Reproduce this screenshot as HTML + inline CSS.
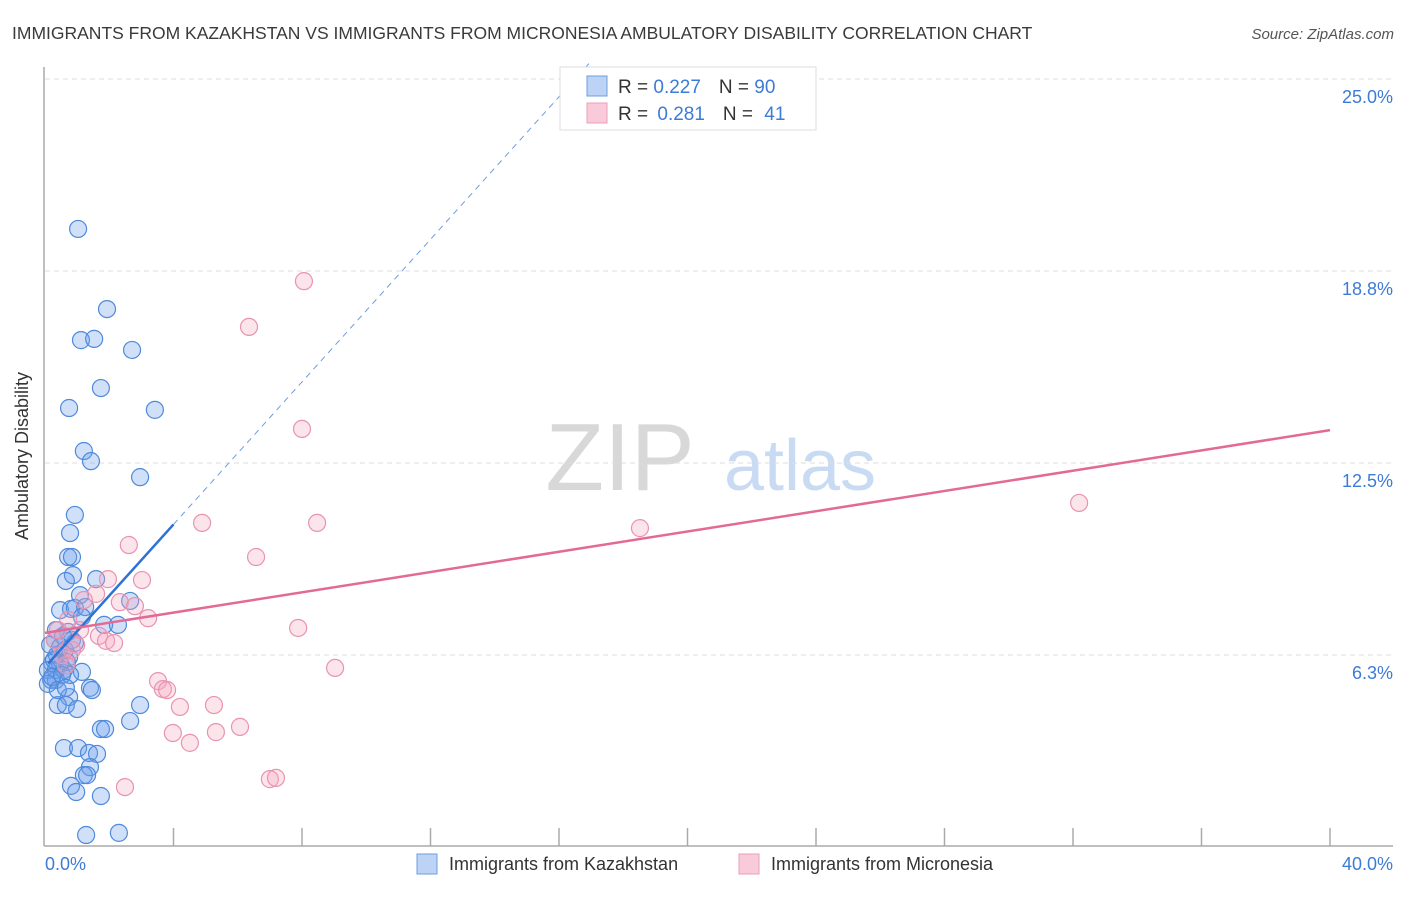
<!DOCTYPE html>
<html><head><meta charset="utf-8"><style>
body{margin:0;background:#fff;font-family:"Liberation Sans",sans-serif;}
svg text{font-family:"Liberation Sans",sans-serif;}
</style></head><body>
<svg id="chart" width="1406" height="892">
<text x="12" y="39" font-size="17.5" fill="#3a3a3a">IMMIGRANTS FROM KAZAKHSTAN VS IMMIGRANTS FROM MICRONESIA AMBULATORY DISABILITY CORRELATION CHART</text>
<text x="1394" y="39" font-size="15" font-style="italic" fill="#555" text-anchor="end">Source: ZipAtlas.com</text>
<text x="620" y="490" font-size="96" font-family="Liberation Serif" fill="#d8d8d8" text-anchor="middle">ZIP</text>
<text x="800" y="490" font-size="72" fill="#c9dbf3" text-anchor="middle">atlas</text>
<g id="grid"></g>
<line x1="44" y1="67" x2="44" y2="846" stroke="#aaa" stroke-width="1.5"/>
<line x1="44" y1="846" x2="1393" y2="846" stroke="#aaa" stroke-width="1.5"/>
<g id="xticks"></g>
<text x="28" y="456" font-size="18" fill="#333" text-anchor="middle" transform="rotate(-90 28 456)">Ambulatory Disability</text>
<text x="45" y="870" font-size="18" fill="#3d7bd6">0.0%</text>
<text x="1393" y="870" font-size="18" fill="#3d7bd6" text-anchor="end">40.0%</text>
<g id="pts"></g>
<g id="lines"></g>
<g>
<rect x="560" y="67" width="256" height="63" fill="#fff" stroke="#ddd"/>
<rect x="587" y="76" width="20" height="20" fill="#bcd3f5" stroke="#6d9de0"/>
<rect x="587" y="103" width="20" height="20" fill="#f9cad9" stroke="#ec9fba"/>
<text x="618" y="93" font-size="19" fill="#333">R = <tspan fill="#3d7bd6">0.227</tspan><tspan dx="18">N = </tspan><tspan fill="#3d7bd6">90</tspan></text>
<text x="618" y="120" font-size="19" fill="#333">R = <tspan fill="#3d7bd6" dx="4">0.281</tspan><tspan dx="18">N = </tspan><tspan fill="#3d7bd6" dx="6">41</tspan></text>
</g>
<rect x="417" y="854" width="20" height="20" fill="#bcd3f5" stroke="#6d9de0"/>
<text x="449" y="870" font-size="18" fill="#333">Immigrants from Kazakhstan</text>
<rect x="739" y="854" width="20" height="20" fill="#f9cad9" stroke="#ec9fba"/>
<text x="771" y="870" font-size="18" fill="#333">Immigrants from Micronesia</text>
</svg>
<script>
const yTicks=[6.25,12.5,18.75,25];
const yTickLabels=["6.3%","12.5%","18.8%","25.0%"];
const xTicks=[0,4,8,12,16,20,24,28,32,36,40];
const kazX=[1.03,1.93,1.12,1.53,2.71,1.74,0.75,3.42,1.21,1.43,2.96,0.93,0.78,0.72,0.84,0.87,0.65,1.59,1.09,2.65,0.47,0.81,0.93,1.25,1.15,1.84,2.27,0.34,0.72,0.31,0.56,0.84,0.16,0.47,0.62,0.93,0.37,0.75,0.22,0.47,0.68,0.09,0.34,0.59,1.15,0.78,0.19,0.34,0.09,1.40,1.46,0.75,0.40,0.65,1.00,2.96,2.65,1.74,1.87,0.59,1.03,1.37,1.62,1.40,1.21,1.31,0.81,0.97,1.74,1.28,2.30,0.22,0.28,0.53,0.40,0.65];
const kazY=[20.12,17.51,16.50,16.54,16.18,14.94,14.29,14.23,12.89,12.56,12.04,10.81,10.22,9.44,9.44,8.85,8.66,8.72,8.20,8.01,7.71,7.75,7.78,7.81,7.49,7.23,7.23,7.06,7.00,6.74,6.87,6.74,6.58,6.51,6.41,6.64,6.25,6.18,5.99,5.96,6.02,5.76,5.76,5.76,5.70,5.60,5.44,5.44,5.31,5.18,5.11,4.88,4.62,4.62,4.49,4.62,4.10,3.84,3.84,3.22,3.22,3.06,3.03,2.60,2.34,2.34,1.99,1.79,1.66,0.39,0.46,5.53,6.09,5.60,5.11,5.18];
const micX=[8.06,6.35,8.00,32.19,4.89,8.47,18.52,2.61,6.57,1.96,3.02,1.59,1.21,2.33,2.80,3.21,0.72,1.09,7.88,1.68,1.90,2.15,0.97,9.03,3.52,3.67,3.80,4.20,5.26,6.07,3.98,5.32,4.51,7.00,7.19,2.49,0.31,0.53,0.65,0.84,0.40];
const micY=[18.42,16.93,13.61,11.20,10.55,10.55,10.38,9.83,9.44,8.72,8.69,8.24,8.04,7.97,7.84,7.45,7.39,7.06,7.13,6.87,6.71,6.64,6.58,5.83,5.40,5.14,5.11,4.56,4.62,3.91,3.71,3.74,3.39,2.21,2.25,1.95,6.74,6.25,5.92,6.41,7.06];
const kazTrend=[5.86,1.16]; // intercept, slope per %
const micTrend=[6.97,0.165];
const NS="http://www.w3.org/2000/svg";
const sx=v=>45+v/40*1285;
const sy=v=>847-v/25*768;
function mk(tag,attrs,parent){const e=document.createElementNS(NS,tag);for(const k in attrs)e.setAttribute(k,attrs[k]);parent.appendChild(e);return e;}
const grid=document.getElementById('grid');
yTicks.forEach((t,i)=>{
 const l=mk('line',{x1:45,x2:1393,y1:sy(t),y2:sy(t),stroke:'#ddd','stroke-dasharray':'5,4'},grid);
 
 
 const tx=mk('text',{x:1393,y:sy(t)+24,'font-size':18,fill:'#3d7bd6','text-anchor':'end'},grid);
 tx.textContent=yTickLabels[i];
 
 
});
const xt=document.getElementById('xticks');
xTicks.forEach(t=>{if(t===0)return;
 const l=mk('line',{x1:sx(t),x2:sx(t),y1:828,y2:846,stroke:'#aaa','stroke-width':1.5},xt);
 
 
});
const pts=document.getElementById('pts');
kazX.forEach((x,i)=>{
 const c=mk('circle',{cx:sx(x),cy:sy(kazY[i]),r:8.5,fill:'rgba(110,160,235,0.32)',stroke:'#4f8ada','stroke-width':1.2},pts);
 
 
});
micX.forEach((x,i)=>{
 const c=mk('circle',{cx:sx(x),cy:sy(micY[i]),r:8.5,fill:'rgba(245,165,190,0.3)',stroke:'#e993b1','stroke-width':1.2},pts);
 
 
});
const ln=document.getElementById('lines');
const kf=x=>kazTrend[0]+kazTrend[1]*x, mf=x=>micTrend[0]+micTrend[1]*x;
const xEnd=(25.5-kazTrend[0])/kazTrend[1];
let l1=mk('line',{x1:sx(4),y1:sy(kf(4)),x2:sx(xEnd),y2:sy(kf(xEnd)),stroke:'#6d9de0','stroke-width':1,'stroke-dasharray':'6,5'},ln);


let l2=mk('line',{x1:sx(0.1),y1:sy(kf(0.1)),x2:sx(4),y2:sy(kf(4)),stroke:'#2d72d6','stroke-width':2.5},ln);


let l3=mk('line',{x1:sx(0),y1:sy(mf(0)),x2:sx(40),y2:sy(mf(40)),stroke:'#e36a95','stroke-width':2.5},ln);


</script>
</body></html>
